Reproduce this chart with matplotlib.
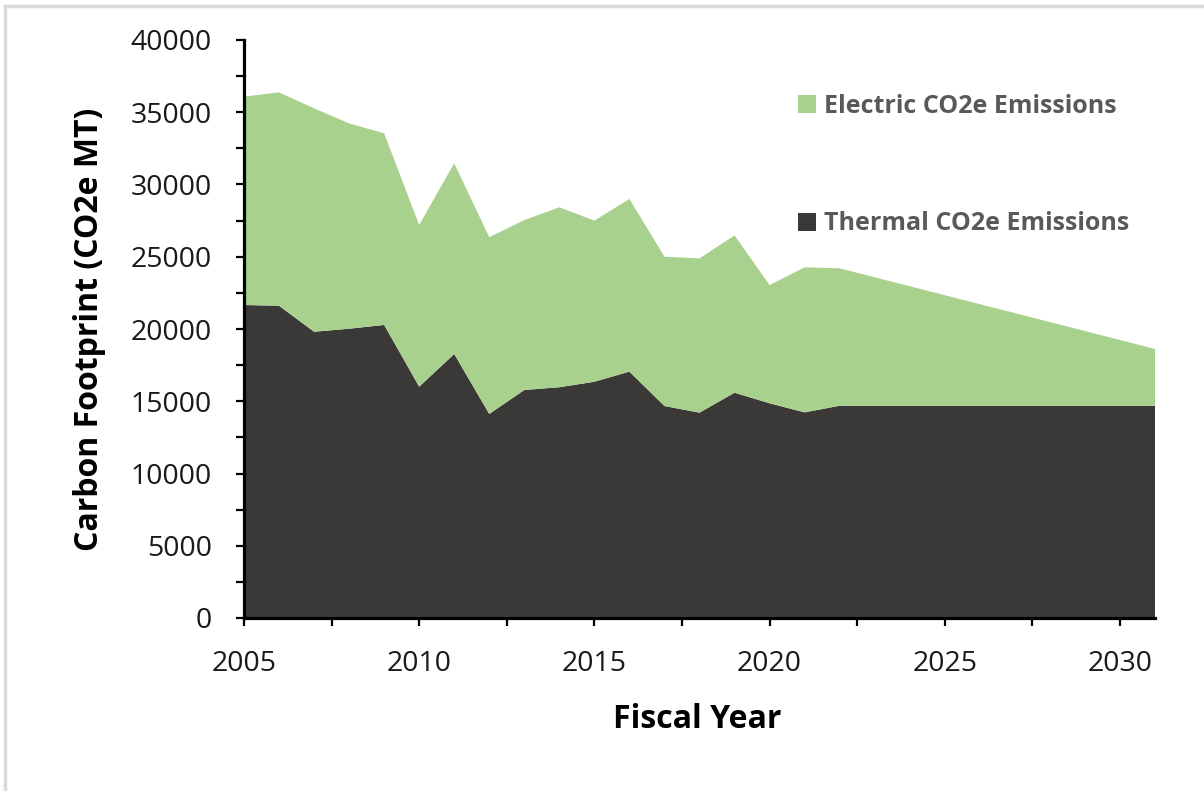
import matplotlib
matplotlib.use("Agg")
import matplotlib.pyplot as plt
from matplotlib.patches import Patch
from matplotlib.lines import Line2D
from matplotlib.ticker import MultipleLocator

years = [2005, 2006, 2007, 2008, 2009, 2010, 2011, 2012, 2013, 2014, 2015, 2016,
         2017, 2018, 2019, 2020, 2021, 2022, 2023, 2024, 2025, 2026, 2027, 2028,
         2029, 2030, 2031]
thermal = [21660, 21610, 19810, 20020, 20280, 16010, 18270, 14120, 15780, 15970,
           16350, 17050, 14670, 14210, 15590, 14860, 14230, 14690, 14690, 14690,
           14690, 14690, 14690, 14690, 14690, 14690, 14690]
electric = [14420, 14770, 15460, 14210, 13260, 11190, 13200, 12230, 11760, 12450,
            11150, 11950, 10330, 10680, 10890, 8180, 10040, 9510, 8890, 8270,
            7650, 7030, 6410, 5790, 5170, 4550, 3930]
series_labels = ["Thermal CO2e Emissions", "Electric CO2e Emissions"]
colors = ["#3b3838", "#a9d18e"]

FONT = "Open Sans"
W, H = 1204, 791
fig = plt.figure(figsize=(W / 100, H / 100), dpi=100)
ax = fig.add_axes([244 / W, 1 - 618 / H, (1155 - 244) / W, (618 - 40) / H])

ax.stackplot(years, thermal, electric, colors=colors, labels=series_labels, linewidth=0)

ax.set_xlim(2005, 2031)
ax.set_ylim(0, 40000)
ax.xaxis.set_major_locator(MultipleLocator(5))
ax.xaxis.set_minor_locator(MultipleLocator(2.5))
ax.yaxis.set_major_locator(MultipleLocator(5000))
ax.yaxis.set_minor_locator(MultipleLocator(2500))

for s in ["top", "right"]:
    ax.spines[s].set_visible(False)
for s in ["left", "bottom"]:
    ax.spines[s].set_linewidth(2.3)
    ax.spines[s].set_color("black")
    ax.spines[s].set_zorder(5)

ax.tick_params(which="both", direction="out", length=6, width=1.6, color="black")
ax.tick_params(axis="y", which="major", pad=17)
ax.tick_params(axis="x", which="major", pad=17)
for lab in ax.get_xticklabels() + ax.get_yticklabels():
    lab.set_fontfamily(FONT)
    lab.set_fontsize(20.5)
    lab.set_color("#1a1a1a")

ax.set_xlabel("Fiscal Year", fontfamily=FONT, fontsize=23, fontweight="bold", color="black")
ax.set_ylabel("Carbon Footprint (CO2e MT)", fontfamily=FONT, fontsize=23, fontweight="bold", color="black")
ax.xaxis.set_label_coords((697 - 244) / 911, (618 - 703) / 578)
ax.yaxis.set_label_coords((106 - 244) / 911, 0.5)

handles = [Patch(facecolor=colors[1], edgecolor="none"), Patch(facecolor=colors[0], edgecolor="none")]
leg = ax.legend(handles, [series_labels[1], series_labels[0]], loc="upper left",
                bbox_to_anchor=((788 - 244) / 911, (618 - 84) / 578),
                frameon=False, handlelength=0.72, handleheight=0.72, handletextpad=0.3,
                labelspacing=3.7, borderaxespad=0,
                prop={"family": FONT, "size": 18, "weight": "bold"})
for t in leg.get_texts():
    t.set_color("#595959")

# chart-area border (top and left edges visible)
fig.add_artist(Line2D([5 / W, 5 / W], [0, 1 - 6 / H], color="#d9d9d9", linewidth=2.5))
fig.add_artist(Line2D([5 / W, 1], [1 - 6 / H, 1 - 6 / H], color="#d9d9d9", linewidth=2.5))

fig.savefig("out.png", dpi=100)
